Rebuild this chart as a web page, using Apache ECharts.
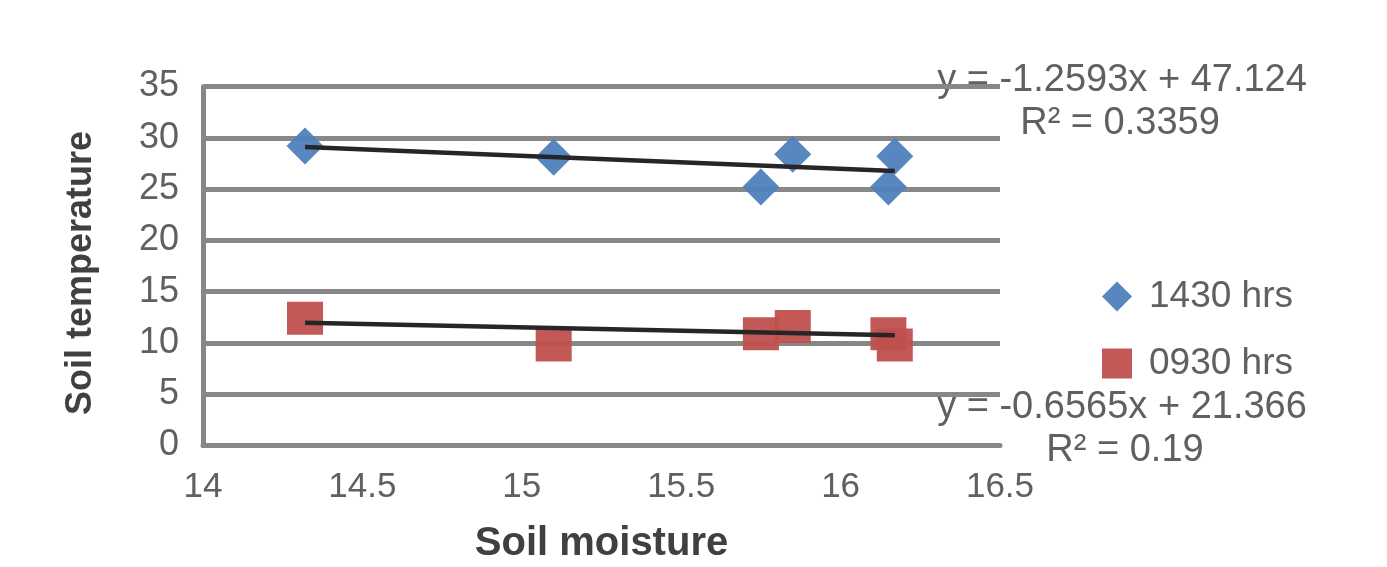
<!DOCTYPE html>
<html>
<head>
<meta charset="utf-8">
<script src="https://cdn.jsdelivr.net/npm/echarts@6/dist/echarts.min.js"></script>
<style>
  html, body { margin: 0; padding: 0; background: #ffffff; }
  #chart { width: 1387px; height: 567px; }
</style>
</head>
<body>
<div id="chart"></div>
<script>
// Soil temperature against soil moisture at two times of day
const seriesNames = ['1430 hrs', '0930 hrs'];
const moisture = [14.32, 15.10, 15.75, 15.85, 16.15, 16.17];
const temp1430 = [29.2, 28.1, 25.2, 28.4, 25.2, 28.2];
const temp0930 = [12.4, 9.8, 10.9, 11.6, 10.9, 9.8];

// Linear trend lines (slope, intercept, R²) for each series
const trendSlopes = [-1.2593, -0.6565];
const trendIntercepts = [47.124, 21.366];
const trendR2 = ['0.3359', '0.19'];

// Axis ticks
const xTicks = [14, 14.5, 15, 15.5, 16, 16.5];
const yTicks = [0, 5, 10, 15, 20, 25, 30, 35];

const colors = ['#4F81BD', '#C0504D'];
const FONT = 'Liberation Sans, Arial, sans-serif';
const TEXT_COLOR = '#606060';

function pairs(xs, ys) { return xs.map((x, i) => [x, ys[i]]); }
function trendPoints(k) {
  const x0 = Math.min(...moisture), x1 = Math.max(...moisture);
  return [[x0, trendSlopes[k] * x0 + trendIntercepts[k]],
          [x1, trendSlopes[k] * x1 + trendIntercepts[k]]];
}
function equationText(k) {
  const s = trendSlopes[k];
  return 'y = ' + (s < 0 ? '-' : '') + Math.abs(s) + 'x + ' + trendIntercepts[k];
}
function note(text, x, y) {
  return {
    type: 'text', x: x, y: y,
    style: { text: text, fill: TEXT_COLOR, fontFamily: FONT, fontSize: 38, align: 'center', verticalAlign: 'middle' }
  };
}

const chart = echarts.init(document.getElementById('chart'), null, { renderer: 'canvas' });

chart.setOption({
  animation: false,
  backgroundColor: '#ffffff',
  grid: { left: 203, right: 387, top: 86.5, bottom: 121.5, containLabel: false, outerBoundsMode: 'none' },
  xAxis: {
    type: 'value',
    min: xTicks[0], max: xTicks[xTicks.length - 1], interval: xTicks[1] - xTicks[0],
    name: 'Soil moisture',
    nameLocation: 'middle',
    nameGap: 78,
    nameTextStyle: { fontFamily: FONT, fontSize: 40, fontWeight: 'bold', color: '#404040' },
    axisLine: { show: true, onZero: false, lineStyle: { color: '#878787', width: 5 } },
    axisTick: { show: false },
    splitLine: { show: false },
    axisLabel: { margin: 24, fontFamily: FONT, fontSize: 35, color: TEXT_COLOR }
  },
  yAxis: {
    type: 'value',
    min: yTicks[0], max: yTicks[yTicks.length - 1], interval: yTicks[1] - yTicks[0],
    name: 'Soil temperature',
    nameLocation: 'middle',
    nameGap: 104,
    nameRotate: 90,
    nameTextStyle: { fontFamily: FONT, fontSize: 36, fontWeight: 'bold', color: '#404040', padding: [0, 14, 0, 0] },
    axisLine: { show: true, lineStyle: { color: '#878787', width: 5 } },
    axisTick: { show: false },
    splitLine: { show: true, lineStyle: { color: '#878787', width: 5 } },
    axisLabel: { margin: 24, padding: [0, 0, 14, 0], fontFamily: FONT, fontSize: 36, color: TEXT_COLOR }
  },
  legend: {
    orient: 'vertical',
    left: 1097, top: 273,
    itemWidth: 30, itemHeight: 30,
    itemGap: 30,
    textStyle: { padding: [0, 0, 8, 12], fontFamily: FONT, fontSize: 37, color: TEXT_COLOR },
    data: [
      { name: seriesNames[0], icon: 'diamond' },
      { name: seriesNames[1], icon: 'rect' }
    ]
  },
  series: [
    {
      name: seriesNames[0], type: 'scatter',
      symbol: 'diamond', symbolSize: 37,
      itemStyle: { color: colors[0], opacity: 0.95 },
      data: pairs(moisture, temp1430), z: 2
    },
    {
      name: seriesNames[1], type: 'scatter',
      symbol: 'rect', symbolSize: [36, 33],
      itemStyle: { color: colors[1], opacity: 0.95 },
      data: pairs(moisture, temp0930), z: 2
    },
    {
      name: 'trend-1430', type: 'line', showSymbol: false, silent: true,
      lineStyle: { color: '#262626', width: 4.5 },
      data: trendPoints(0), z: 3
    },
    {
      name: 'trend-0930', type: 'line', showSymbol: false, silent: true,
      lineStyle: { color: '#262626', width: 4.5 },
      data: trendPoints(1), z: 3
    }
  ],
  graphic: [
    note(equationText(0), 1122, 81),
    note('R² = ' + trendR2[0], 1120, 124),
    note(equationText(1), 1122, 408),
    note('R² = ' + trendR2[1], 1125, 451)
  ]
});
</script>
</body>
</html>
